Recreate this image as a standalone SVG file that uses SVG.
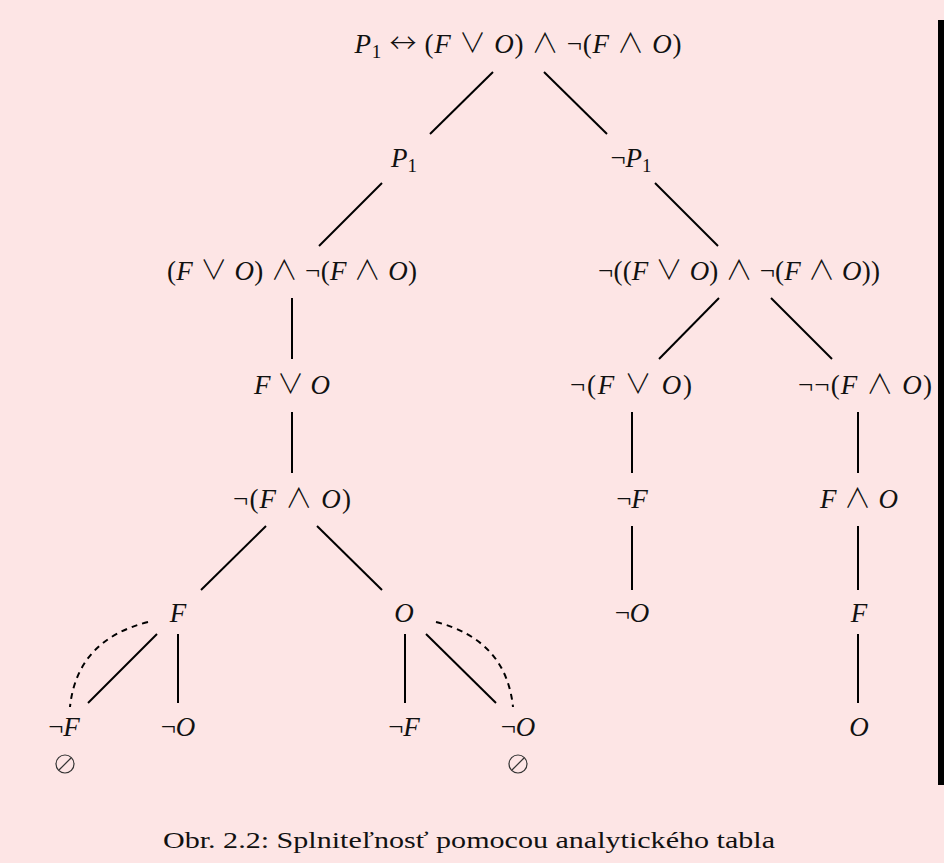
<svg xmlns="http://www.w3.org/2000/svg" width="944" height="863" viewBox="0 0 944 863">
<style>
  .m { font-family: "Liberation Serif", "DejaVu Serif", serif; font-size: 27px; fill: #111; text-anchor: middle; }
  .i { font-style: italic; }
  .o { font-family: "Noto Sans CJK JP", "DejaVu Sans", sans-serif; font-weight: 300; }
  .sub { font-size: 19px; }
  .cap { font-family: "Liberation Serif", "DejaVu Serif", serif; font-size: 24px; fill: #111; text-anchor: middle; }
  .e { stroke: #000; stroke-width: 2; fill: none; }
  .d { stroke: #000; stroke-width: 2; fill: none; stroke-dasharray: 6 5; }
</style>
<rect x="0" y="0" width="944" height="863" fill="#fde5e5"/>
<rect x="938" y="20" width="6" height="765" fill="#000"/>

<g id="connectors">
  <line class="e" x1="493" y1="72" x2="430" y2="134"/>
  <line class="e" x1="544" y1="72" x2="607" y2="134"/>
  <line class="e" x1="382" y1="183" x2="319" y2="246"/>
  <line class="e" x1="655" y1="183" x2="718" y2="246"/>
  <line class="e" x1="292" y1="298" x2="292" y2="359"/>
  <line class="e" x1="292" y1="412" x2="292" y2="473"/>
  <line class="e" x1="266" y1="526" x2="201" y2="590"/>
  <line class="e" x1="317" y1="526" x2="382" y2="590"/>
  <line class="e" x1="157" y1="634" x2="88" y2="703"/>
  <line class="e" x1="178" y1="634" x2="178" y2="703"/>
  <line class="e" x1="405" y1="634" x2="405" y2="703"/>
  <line class="e" x1="426" y1="634" x2="496" y2="703"/>
  <path class="d" d="M148,622 Q77,640 70,707"/>
  <path class="d" d="M436,622 Q506,640 513,707"/>
  <line class="e" x1="719" y1="298" x2="659" y2="359"/>
  <line class="e" x1="771" y1="298" x2="832" y2="359"/>
  <line class="e" x1="632" y1="412" x2="632" y2="473"/>
  <line class="e" x1="632" y1="526" x2="632" y2="590"/>
  <line class="e" x1="858" y1="412" x2="858" y2="473"/>
  <line class="e" x1="858" y1="526" x2="858" y2="590"/>
  <line class="e" x1="858" y1="634" x2="858" y2="703"/>
</g>

<g id="n-root"><text class="m" x="518" y="53" textLength="327" lengthAdjust="spacing"><tspan class="i">P</tspan><tspan class="sub" dy="5">1</tspan><tspan dy="-5"> </tspan><tspan class="o">↔</tspan> (<tspan class="i">F</tspan> <tspan class="o">∨</tspan> <tspan class="i">O</tspan>) <tspan class="o">∧</tspan> ¬(<tspan class="i">F</tspan> <tspan class="o">∧</tspan> <tspan class="i">O</tspan>)</text></g>
<g id="n-p1"><text class="m" x="404" y="167"><tspan class="i">P</tspan><tspan class="sub" dy="5">1</tspan></text></g>
<g id="n-np1"><text class="m" x="631" y="167">¬<tspan class="i">P</tspan><tspan class="sub" dy="5">1</tspan></text></g>
<g id="n-l2"><text class="m" x="292" y="280" textLength="250" lengthAdjust="spacing">(<tspan class="i">F</tspan> <tspan class="o">∨</tspan> <tspan class="i">O</tspan>) <tspan class="o">∧</tspan> ¬(<tspan class="i">F</tspan> <tspan class="o">∧</tspan> <tspan class="i">O</tspan>)</text></g>
<g id="n-r2"><text class="m" x="739" y="280" textLength="282" lengthAdjust="spacing">¬((<tspan class="i">F</tspan> <tspan class="o">∨</tspan> <tspan class="i">O</tspan>) <tspan class="o">∧</tspan> ¬(<tspan class="i">F</tspan> <tspan class="o">∧</tspan> <tspan class="i">O</tspan>))</text></g>
<g id="n-l3"><text class="m" x="292" y="394" textLength="76" lengthAdjust="spacing"><tspan class="i">F</tspan> <tspan class="o">∨</tspan> <tspan class="i">O</tspan></text></g>
<g id="n-l4"><text class="m" x="292" y="508" textLength="118" lengthAdjust="spacing">¬(<tspan class="i">F</tspan> <tspan class="o">∧</tspan> <tspan class="i">O</tspan>)</text></g>
<g id="n-l5a"><text class="m" x="178" y="622"><tspan class="i">F</tspan></text></g>
<g id="n-l5b"><text class="m" x="404" y="622"><tspan class="i">O</tspan></text></g>
<g id="n-l6a"><text class="m" x="64" y="736">¬<tspan class="i">F</tspan></text><circle cx="65" cy="764" r="9" fill="none" stroke="#333" stroke-width="1.2"/><line x1="59" y1="770" x2="71" y2="758" stroke="#333" stroke-width="1.2"/></g>
<g id="n-l6b"><text class="m" x="178" y="736">¬<tspan class="i">O</tspan></text></g>
<g id="n-l6c"><text class="m" x="404" y="736">¬<tspan class="i">F</tspan></text></g>
<g id="n-l6d"><text class="m" x="518" y="736">¬<tspan class="i">O</tspan></text><circle cx="518" cy="764" r="9" fill="none" stroke="#333" stroke-width="1.2"/><line x1="512" y1="770" x2="524" y2="758" stroke="#333" stroke-width="1.2"/></g>
<g id="n-r3a"><text class="m" x="631" y="394" textLength="122" lengthAdjust="spacing">¬(<tspan class="i">F</tspan> <tspan class="o">∨</tspan> <tspan class="i">O</tspan>)</text></g>
<g id="n-r3b"><text class="m" x="865" y="394" textLength="134" lengthAdjust="spacing">¬¬(<tspan class="i">F</tspan> <tspan class="o">∧</tspan> <tspan class="i">O</tspan>)</text></g>
<g id="n-r4a"><text class="m" x="632" y="508">¬<tspan class="i">F</tspan></text></g>
<g id="n-r4b"><text class="m" x="859" y="508" textLength="78" lengthAdjust="spacing"><tspan class="i">F</tspan> <tspan class="o">∧</tspan> <tspan class="i">O</tspan></text></g>
<g id="n-r5a"><text class="m" x="632" y="622">¬<tspan class="i">O</tspan></text></g>
<g id="n-r5b"><text class="m" x="859" y="622"><tspan class="i">F</tspan></text></g>
<g id="n-r6b"><text class="m" x="859" y="736"><tspan class="i">O</tspan></text></g>

<g id="caption"><text class="cap" x="469" y="848" textLength="612" lengthAdjust="spacingAndGlyphs">Obr. 2.2: Splniteľnosť pomocou analytického tabla</text></g>
</svg>
